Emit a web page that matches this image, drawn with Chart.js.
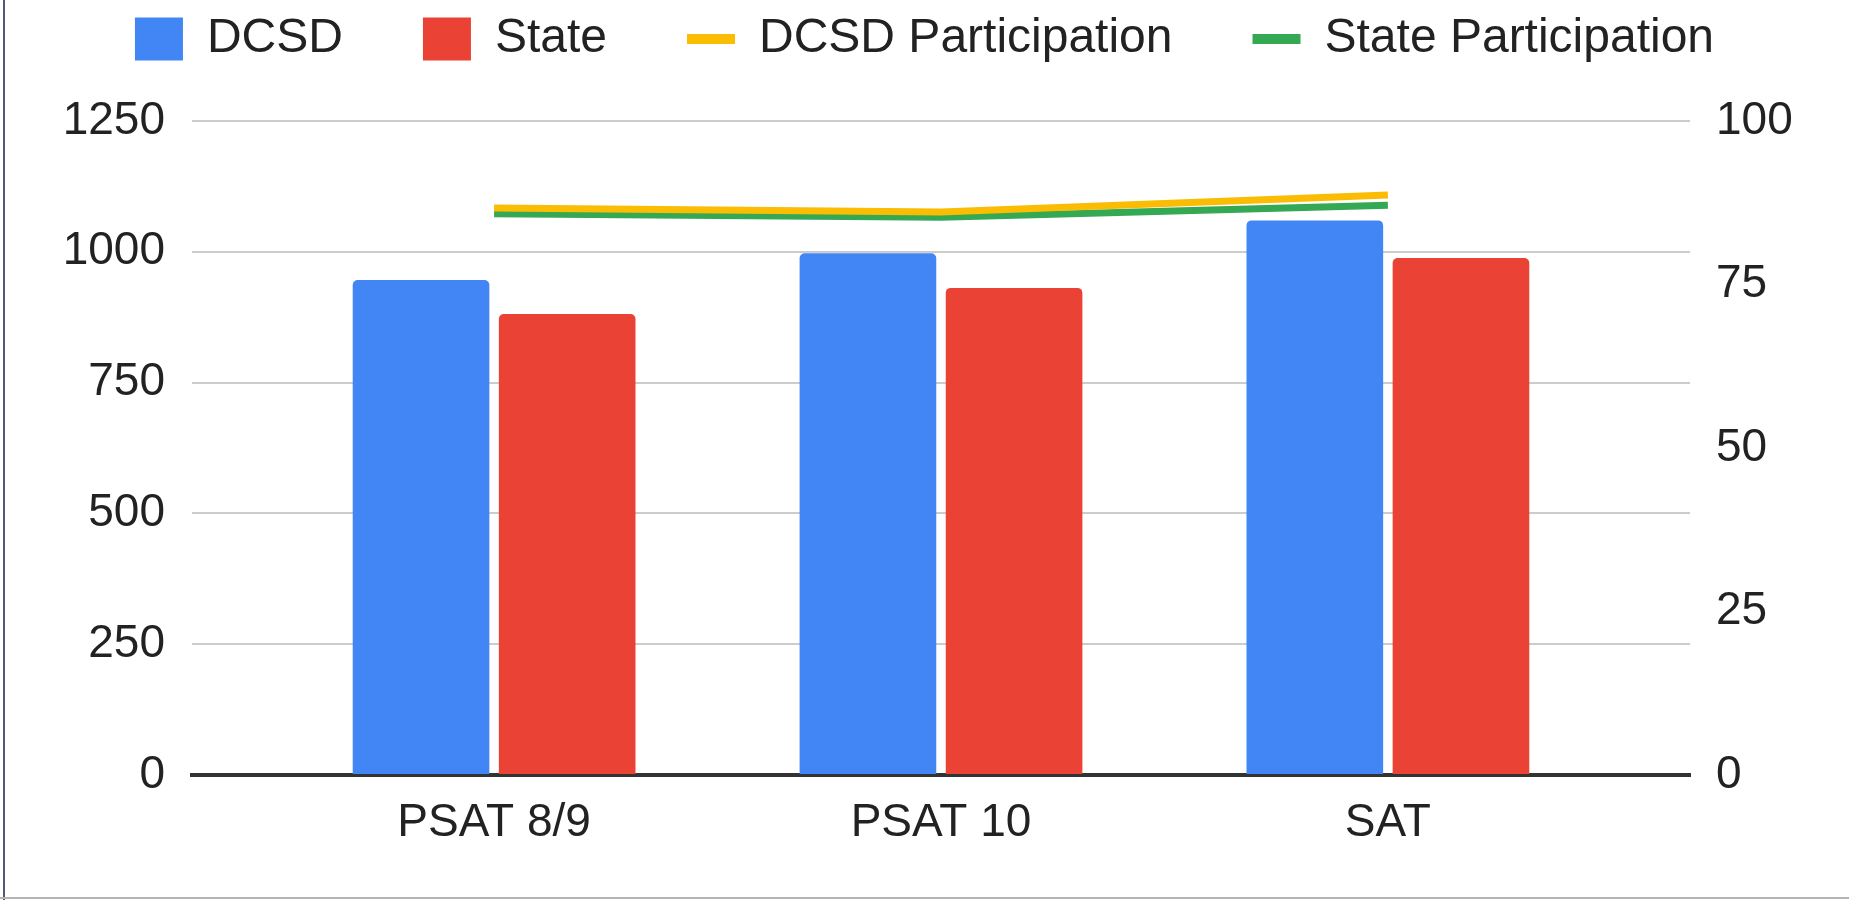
<!DOCTYPE html>
<html lang="en">
<head>
    <meta charset="UTF-8">
    <title>DCSD vs State - PSAT / SAT</title>
    <script src="https://cdn.jsdelivr.net/npm/chart.js"></script>
    <style>
        body {
            margin: 0;
            background: #ffffff;
            overflow: hidden;
        }
        #wrap {
            position: relative;
            width: 1849px;
            height: 900px;
        }
        #leftEdge {
            position: absolute;
            left: 3px; top: 0; bottom: 0;
            width: 2px;
            background: #4b5b73;
        }
        #bottomEdge {
            position: absolute;
            left: 0; right: 0; bottom: 1px;
            height: 2px;
            background: #b4b4b4;
        }
    </style>
</head>
<body>
    <div id="wrap">
        <canvas id="myChart" width="1849" height="900"></canvas>
        <div id="leftEdge"></div>
        <div id="bottomEdge"></div>
    </div>
    <script>
        const categories = ['PSAT 8/9', 'PSAT 10', 'SAT'];
        const dcsdScores = [946, 997, 1060];
        const stateScores = [881, 931, 988];
        const dcsdParticipation = [86.7, 86.1, 88.7];
        const stateParticipation = [85.8, 85.3, 87.1];
        const scoreTicks = [0, 250, 500, 750, 1000, 1250];
        const participationTicks = [0, 25, 50, 75, 100];

        const FONT = 'Liberation Sans, Arial, sans-serif';
        const toPoints = arr => arr.map((v, i) => ({ x: i, y: v }));

        new Chart(document.getElementById('myChart'), {
            type: 'bar',
            data: {
                datasets: [
                    { label: 'DCSD', data: toPoints(dcsdScores), backgroundColor: '#4285f4', yAxisID: 'y',
                      borderWidth: 0, borderRadius: { topLeft: 5, topRight: 5 }, borderSkipped: 'start' },
                    { label: 'State', data: toPoints(stateScores), backgroundColor: '#ea4335', yAxisID: 'y',
                      borderWidth: 0, borderRadius: { topLeft: 5, topRight: 5 }, borderSkipped: 'start' },
                    { type: 'line', label: 'DCSD Participation', data: toPoints(dcsdParticipation), yAxisID: 'y1',
                      borderColor: '#fbbc04', backgroundColor: '#fbbc04', borderWidth: 7, pointRadius: 0, tension: 0 },
                    { type: 'line', label: 'State Participation', data: toPoints(stateParticipation), yAxisID: 'y1',
                      borderColor: '#34a853', backgroundColor: '#34a853', borderWidth: 7, pointRadius: 0, tension: 0 }
                ]
            },
            options: {
                responsive: false,
                animation: false,
                devicePixelRatio: 1,
                layout: { padding: { top: -65, left: 0, right: 0, bottom: 0 } },
                datasets: {
                    bar: { categoryPercentage: 0.654, barPercentage: 0.935 }
                },
                plugins: {
                    tooltip: { enabled: false },
                    title: {
                        display: true, text: '', position: 'top', weight: 500,
                        padding: 0, font: { size: 48, lineHeight: 1 }
                    },
                    legend: {
                        position: 'top',
                        labels: {
                            font: { family: FONT, size: 48 },
                            color: '#222222',
                            usePointStyle: true,
                            pointStyleWidth: 48,
                            boxHeight: 43,
                            padding: 80,
                            generateLabels(chart) {
                                const items = Chart.defaults.plugins.legend.labels.generateLabels(chart);
                                items.forEach(item => {
                                    const ds = chart.data.datasets[item.datasetIndex];
                                    if (ds.type === 'line') {
                                        item.pointStyle = 'line';
                                        item.lineWidth = 10;
                                    } else {
                                        item.pointStyle = 'rect';
                                        item.lineWidth = 0;
                                    }
                                });
                                return items;
                            }
                        }
                    }
                },
                scales: {
                    x: {
                        type: 'linear',
                        offset: false,
                        min: -0.676,
                        max: categories.length - 1 + 0.676,
                        afterBuildTicks: scale => { scale.ticks = categories.map((c, i) => ({ value: i })); },
                        afterFit: scale => { scale.height = 125; },
                        ticks: {
                            callback: v => categories[v],
                            font: { family: FONT, size: 46 },
                            color: '#222222',
                            padding: 21,
                            maxRotation: 0,
                            autoSkip: false
                        },
                        grid: { display: false, drawTicks: false },
                        border: { display: true, color: '#333333', width: 4 }
                    },
                    y: {
                        position: 'left',
                        min: scoreTicks[0],
                        max: scoreTicks[scoreTicks.length - 1],
                        afterBuildTicks: scale => { scale.ticks = scoreTicks.map(v => ({ value: v })); },
                        afterFit: scale => { scale.width = 192; },
                        ticks: {
                            callback: v => String(v),
                            font: { family: FONT, size: 46 },
                            color: '#222222',
                            padding: 27
                        },
                        grid: { color: '#cccccc', lineWidth: 2, drawTicks: false },
                        border: { display: false }
                    },
                    y1: {
                        position: 'right',
                        min: participationTicks[0],
                        max: participationTicks[participationTicks.length - 1],
                        afterBuildTicks: scale => { scale.ticks = participationTicks.map(v => ({ value: v })); },
                        afterFit: scale => { scale.width = 159; },
                        ticks: {
                            callback: v => String(v),
                            font: { family: FONT, size: 46 },
                            color: '#222222',
                            padding: 26
                        },
                        grid: { display: false, drawTicks: false },
                        border: { display: false }
                    }
                }
            }
        });
    </script>
</body>
</html>
